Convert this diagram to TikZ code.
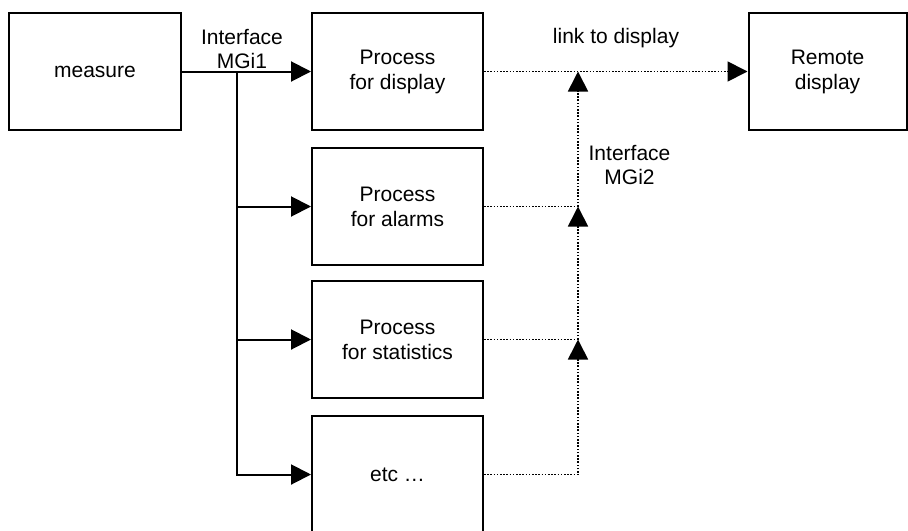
\documentclass[tikz,border=0pt]{standalone}
\usepackage{fontspec}
\setmainfont{Liberation Sans}
\usetikzlibrary{arrows.meta}

\tikzset{
  block/.style={draw, line width=1pt, minimum width=86pt, minimum height=58.5pt,
    align=center, font=\fontsize{10.5}{12.5}\selectfont},
  lbl/.style={align=center, font=\fontsize{10.5}{12}\selectfont},
  feed/.style={line width=1pt},
  dotline/.style={line width=0.85pt, dash pattern=on 0.8pt off 0.8pt},
  >={Triangle[length=10pt,width=10pt]}
}

\begin{document}
\begin{tikzpicture}[x=0.5pt,y=-0.5pt]
\useasboundingbox (0,0) rectangle (908,530);
% boxes
\node[block] (measure) at (95,71.5) {measure};
\node[block, minimum width=85.5pt] (display) at (397.5,71.5) {Process\\for display};
\node[block, minimum width=85.5pt] (alarms) at (397.5,206.5) {Process\\for alarms};
\node[block, minimum width=85.5pt] (stats) at (397.5,339.5) {Process\\for statistics};
\node[block, minimum width=85.5pt] (etc) at (397.5,474.5) {etc \dots};
\node[block, minimum width=79pt] (remote) at (827.5,71.5) {Remote\\display};

% interface MGi1
\coordinate (split) at (237,71.5);
\draw[feed,->] (measure) -- (display);
\draw[feed,->] (split) |- (alarms);
\draw[feed,->] (split) |- (stats);
\draw[feed,->] (split) |- (etc);
\node[lbl] (mgi1) at (242,49) {Interface\\MGi1};

% interface MGi2
\coordinate (bus) at (578,71.5);
\draw[dotline,->] (display) -- (remote);
\draw[dotline,->] (etc.east) -| (stats.east -| bus);
\draw[dotline] (stats.east) -- (stats.east -| bus);
\draw[dotline,->] (stats.east -| bus) -- (alarms.east -| bus);
\draw[dotline] (alarms.east) -- (alarms.east -| bus);
\draw[dotline,->] (alarms.east -| bus) -- (bus);
\node[lbl] (link) at (616,38) {link to display};
\node[lbl] (mgi2) at (629.5,165) {Interface\\MGi2};
\end{tikzpicture}
\end{document}
